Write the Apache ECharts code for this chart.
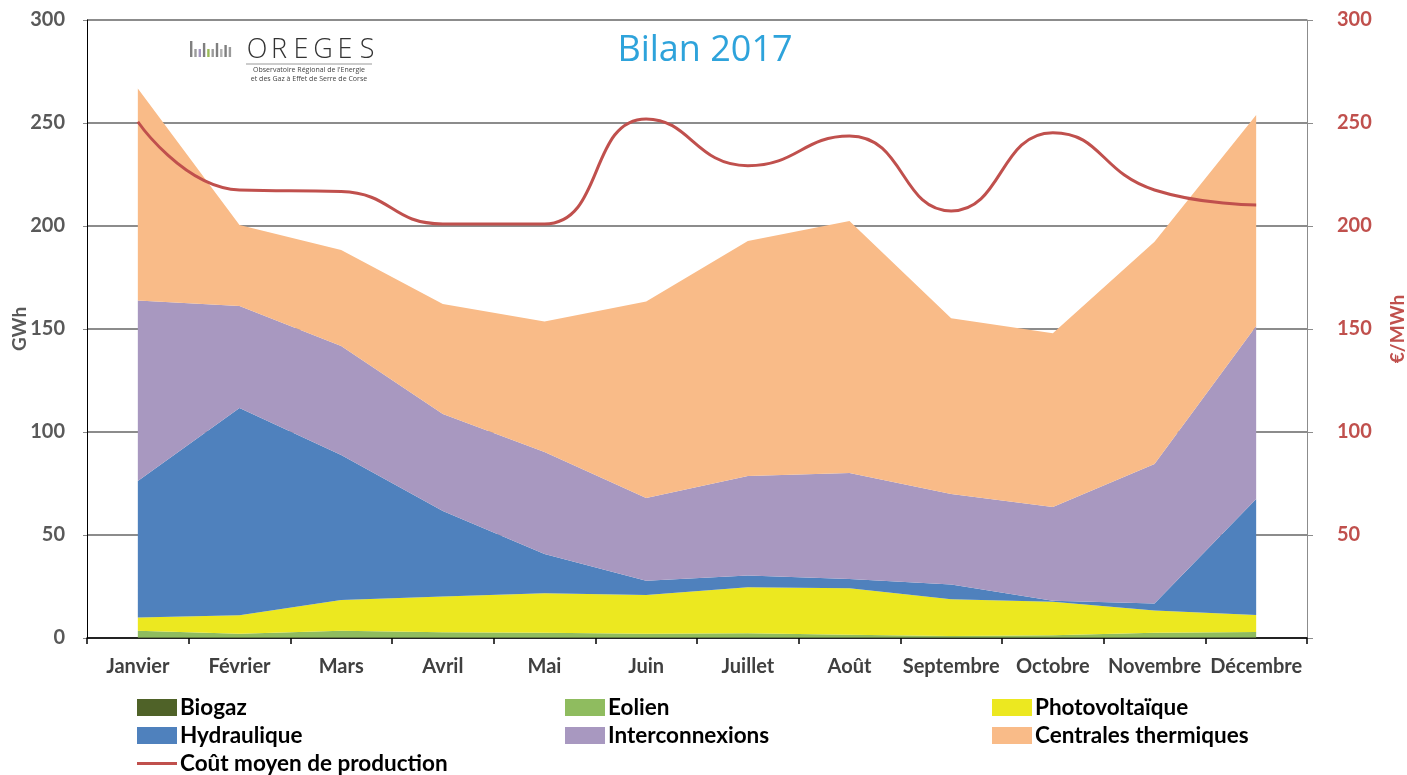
<!DOCTYPE html>
<html><head><meta charset="utf-8">
<script src="https://cdn.jsdelivr.net/npm/echarts@6/dist/echarts.min.js"></script>
<style>html,body{margin:0;padding:0;background:#fff}#c{width:1407px;height:775px}</style>
</head><body><div id="c"></div>
<script>
const months = ['Janvier','Février','Mars','Avril','Mai','Juin','Juillet','Août','Septembre','Octobre','Novembre','Décembre'];
const biogaz = [0.3,0.3,0.3,0.3,0.3,0.3,0.3,0.3,0.3,0.3,0.3,0.3];
const eolien = [3.2,1.8,3.2,2.5,2.3,1.8,2.0,1.3,0.7,1.0,2.3,2.6];
const photovoltaique = [6.5,8.9,14.9,17.4,19.1,18.8,22.3,22.5,17.8,16.3,10.7,8.3];
const hydraulique = [66.2,100.7,70.4,41.5,19.1,6.9,5.8,4.5,7.2,0.5,3.5,56.3];
const interconnexions = [87.6,49.5,52.9,47.0,49.5,40.2,48.2,51.5,43.9,45.5,67.7,84.0];
const thermiques = [103.0,39.3,46.6,53.4,63.3,95.3,114.1,122.3,85.3,84.3,107.9,102.4];
const coutMoyen = [250.6,217.5,216.7,201,201,252,229.3,243.7,207.3,245.3,217.5,210.2];

const FONT = 'Lato, "Open Sans", sans-serif';
const chart = echarts.init(document.getElementById('c'));

function area(name, data, color){
  return {name, type:'line', stack:'prod', data, symbol:'none', showSymbol:false,
    lineStyle:{width:0}, areaStyle:{color, opacity:1}, itemStyle:{color}, z:2};
}

// legend layout: [name, left, top, icon]
const legendItems = [
  ['Biogaz', 137, 696, 'rect'],
  ['Hydraulique', 137, 724, 'rect'],
  ['Coût moyen de production', 137, 752, 'path://M0,0 L40,0 L40,3 L0,3 Z'],
  ['Eolien', 565, 696, 'rect'],
  ['Interconnexions', 565, 724, 'rect'],
  ['Photovoltaïque', 992, 696, 'rect'],
  ['Centrales thermiques', 992, 724, 'rect']
];
const legends = legendItems.map(([name,l,t,icon])=>({
  left:l, top:t, padding:0, itemWidth:40, itemHeight:17, itemGap:0, selectedMode:false,
  textStyle:{fontSize:22.5, lineHeight:22, fontWeight:'bold', color:'#000', fontFamily:FONT, padding:[0,0,0,-2]},
  data:[{name, icon}]
}));

// logo bars
const barH = [16,8,8,14,8,8,14,8,12,10];
const barCol = ['#7f7f7f','#9b9b9b','#a597c0','#7f7f7f','#9bbb59','#9b9b9b','#7f7f7f','#b0b0b0','#7f7f7f','#9b9b9b'];
const logoBars = barH.map((h,i)=>({type:'rect', shape:{x:190+i*4.3, y:57-h, width:2.4, height:h}, style:{fill:barCol[i]}, z:10}));
const logoLetters = ['O','R','E','G','E','S'].map((ch,i)=>({type:'text', x:257+i*22, y:37,
  style:{text:ch, fill:'#333', font:'300 27px "Open Sans", sans-serif', align:'center'}, z:10}));

chart.setOption({
  animation:false,
  grid:{left:87, right:100, top:20, bottom:137, containLabel:false, outerBoundsMode:'none'},
  title:{text:'Bilan 2017', left:700, top:28, textAlign:'center',
    textStyle:{color:'#2ea3db', fontSize:36, fontWeight:'normal', fontFamily:'"Open Sans", sans-serif'}},
  legend:legends,
  xAxis:{type:'category', data:months, boundaryGap:true,
    axisLine:{lineStyle:{color:'#000', width:1.5}},
    axisTick:{show:true, length:6, lineStyle:{color:'#000', width:1.5}},
    axisLabel:{interval:0, fontSize:20, fontWeight:'bold', color:'#404040', fontFamily:FONT, margin:19}},
  yAxis:[
    {type:'value', min:0, max:300, interval:50, name:'GWh', nameLocation:'middle', nameGap:58, nameRotate:90,
     nameMoveOverlap:false,
     nameTextStyle:{fontSize:19, fontWeight:'bold', color:'#595959', fontFamily:FONT},
     axisLine:{show:true, lineStyle:{color:'#000', width:1}},
     axisTick:{show:true, length:4, lineStyle:{color:'#888'}},
     axisLabel:{fontSize:20, fontWeight:'bold', color:'#595959', fontFamily:FONT, margin:22},
     splitLine:{show:true, lineStyle:{color:'#8c8c8c', width:2}}},
    {type:'value', min:0, max:300, interval:50, position:'right', name:'€/MWh', nameLocation:'middle', nameGap:81, nameRotate:90,
     nameMoveOverlap:false,
     nameTextStyle:{fontSize:19, fontWeight:'bold', color:'#c0504d', fontFamily:FONT},
     axisLine:{show:true, lineStyle:{color:'#8c8c8c', width:1}},
     axisTick:{show:true, length:6, lineStyle:{color:'#8c8c8c'}},
     axisLabel:{fontSize:20, fontWeight:'bold', color:'#c0504d', fontFamily:FONT, margin:30,
       formatter:v=> v===0 ? '' : String(v)},
     splitLine:{show:false}}
  ],
  series:[
    area('Biogaz', biogaz, '#4f6228'),
    area('Eolien', eolien, '#8fbc5f'),
    area('Photovoltaïque', photovoltaique, '#ece820'),
    area('Hydraulique', hydraulique, '#4f81bd'),
    area('Interconnexions', interconnexions, '#a898c0'),
    area('Centrales thermiques', thermiques, '#f9bb88'),
    {name:'Coût moyen de production', type:'line', yAxisIndex:1, data:coutMoyen, smooth:0.5,
     symbol:'none', showSymbol:false, lineStyle:{color:'#c0504d', width:3}, itemStyle:{color:'#c0504d'}, z:5}
  ],
  graphic:[
    ...logoBars,
    ...logoLetters,
    {type:'line', shape:{x1:246, y1:64, x2:372, y2:64}, style:{stroke:'#999', lineWidth:1}, z:10},
    {type:'text', x:309, y:66, style:{text:"Observatoire Régional de l'Energie", fill:'#444', font:'7px "Open Sans", sans-serif', align:'center'}, z:10},
    {type:'text', x:309, y:75, style:{text:"et des Gaz à Effet de Serre de Corse", fill:'#444', font:'7px "Open Sans", sans-serif', align:'center'}, z:10}
  ]
});
</script></body></html>
